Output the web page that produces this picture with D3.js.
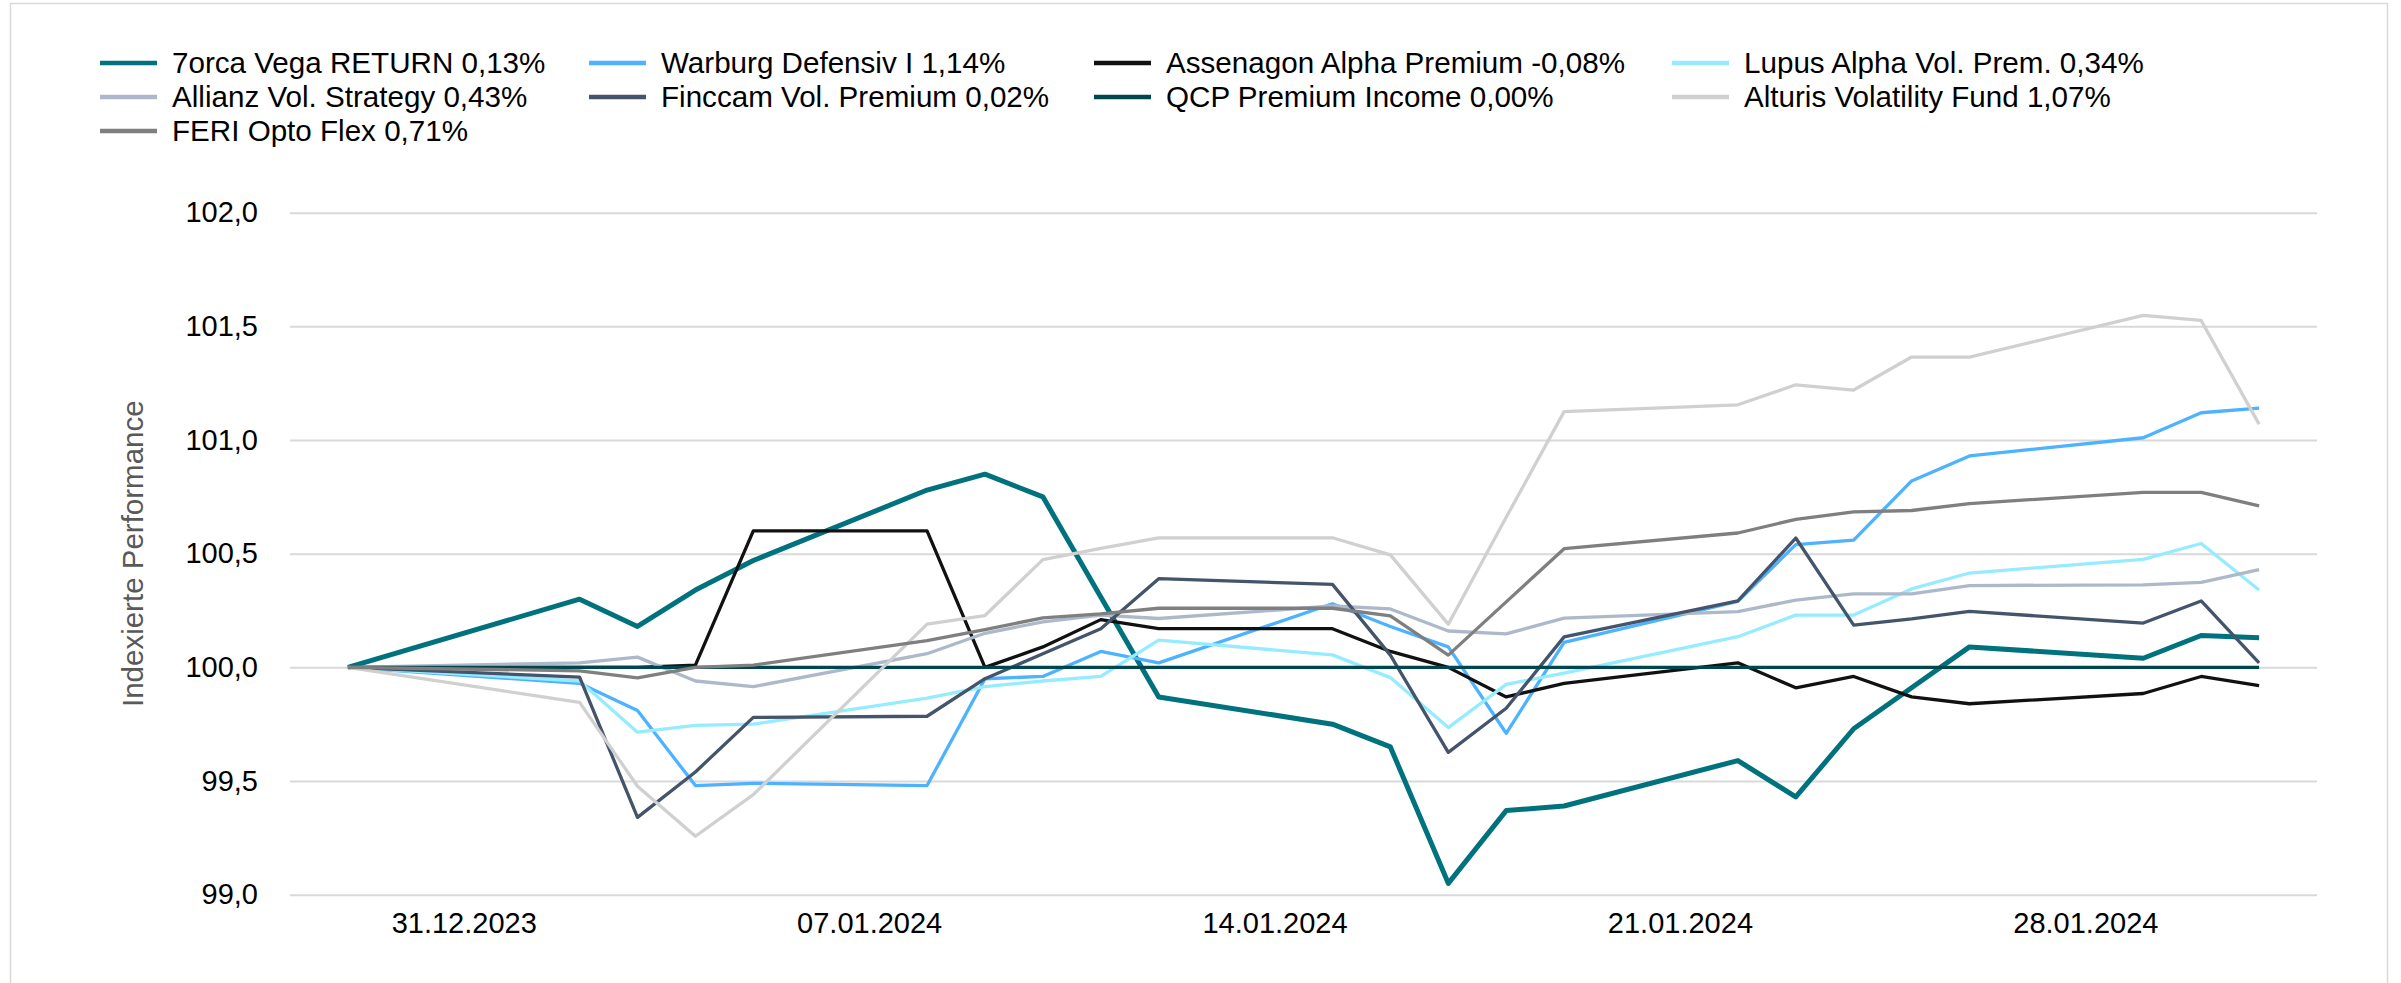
<!DOCTYPE html>
<html>
<head>
<meta charset="utf-8">
<script src="https://cdn.jsdelivr.net/npm/d3@7"></script>
<style>
  body { margin: 0; background: #fff; }
  text { font-family: "Liberation Sans", Arial, sans-serif; }
</style>
</head>
<body>
<div id="chart"></div>
<script>
// trading days
var dates = ["2023-12-29","2024-01-02","2024-01-03","2024-01-04","2024-01-05",
  "2024-01-08","2024-01-09","2024-01-10","2024-01-11","2024-01-12",
  "2024-01-15","2024-01-16","2024-01-17","2024-01-18","2024-01-19",
  "2024-01-22","2024-01-23","2024-01-24","2024-01-25","2024-01-26",
  "2024-01-29","2024-01-30","2024-01-31"];

var orca     = [100, 100.30, 100.18, 100.34, 100.47, 100.78, 100.85, 100.75, 100.31, 99.87, 99.75, 99.65, 99.05, 99.37, 99.39, 99.59, 99.43, 99.73, 99.91, 100.09, 100.04, 100.14, 100.13];
var warburg  = [100, 99.93, 99.81, 99.48, 99.49, 99.48, 99.95, 99.96, 100.07, 100.02, 100.28, 100.18, 100.09, 99.71, 100.11, 100.29, 100.54, 100.56, 100.82, 100.93, 101.01, 101.12, 101.14];
var assenagon= [100, 100.00, 100.00, 100.01, 100.60, 100.60, 100.00, 100.09, 100.21, 100.17, 100.17, 100.07, 100.00, 99.87, 99.93, 100.02, 99.91, 99.96, 99.87, 99.84, 99.885, 99.96, 99.92];
var lupus    = [100, 99.94, 99.715, 99.745, 99.75, 99.865, 99.915, 99.94, 99.96, 100.12, 100.055, 99.955, 99.735, 99.925, 99.975, 100.135, 100.23, 100.23, 100.345, 100.415, 100.475, 100.545, 100.34];
var allianz  = [100, 100.02, 100.045, 99.94, 99.915, 100.06, 100.15, 100.20, 100.23, 100.215, 100.27, 100.257, 100.16, 100.147, 100.217, 100.245, 100.296, 100.323, 100.323, 100.36, 100.363, 100.374, 100.43];
var finccam  = [100, 99.957, 99.34, 99.54, 99.78, 99.785, 99.95, 100.06, 100.17, 100.39, 100.365, 100.054, 99.626, 99.82, 100.134, 100.292, 100.569, 100.186, 100.213, 100.246, 100.195, 100.292, 100.02];
var qcp      = [100, 100, 100, 100, 100, 100, 100, 100, 100, 100, 100, 100, 100, 100, 100, 100, 100, 100, 100, 100, 100, 100, 100];
var alturis  = [100, 99.846, 99.477, 99.257, 99.44, 100.19, 100.228, 100.474, 100.523, 100.57, 100.57, 100.495, 100.19, 100.66, 101.125, 101.155, 101.243, 101.22, 101.365, 101.365, 101.548, 101.526, 101.07];
var feri     = [100, 99.985, 99.954, 100.00, 100.01, 100.118, 100.166, 100.218, 100.235, 100.26, 100.26, 100.226, 100.054, 100.288, 100.522, 100.591, 100.651, 100.684, 100.69, 100.72, 100.77, 100.77, 100.71];

var names = ["7orca Vega RETURN 0,13%", "Warburg Defensiv I 1,14%", "Assenagon Alpha Premium -0,08%",
  "Lupus Alpha Vol. Prem. 0,34%", "Allianz Vol. Strategy 0,43%", "Finccam Vol. Premium 0,02%",
  "QCP Premium Income 0,00%", "Alturis Volatility Fund 1,07%", "FERI Opto Flex 0,71%"];
var values = [orca, warburg, assenagon, lupus, allianz, finccam, qcp, alturis, feri];

var yTicks = [99, 99.5, 100, 100.5, 101, 101.5, 102];
var xTicks = ["2023-12-31", "2024-01-07", "2024-01-14", "2024-01-21", "2024-01-28"];
var xDomain = ["2023-12-28", "2024-02-01"];

// styles
var colors = ["#00727e", "#4db2ff", "#111111", "#95ecff", "#adb9ca", "#44546a", "#00464e", "#d0d0d0", "#7f7f7f"];
var widths = [5, 3.3, 3.3, 3.3, 3.3, 3.3, 3.3, 3.3, 3.3];

var W = 2401, H = 983;
var margin = {top: 212.7, right: 84, bottom: 88.3, left: 290};

var parse = d3.utcParse("%Y-%m-%d");

var svg = d3.select("#chart")
  .append("svg")
    .attr("width", W)
    .attr("height", H);

svg.append("rect")
  .attr("width", W).attr("height", H)
  .attr("fill", "#fff");

// outer frame
svg.append("rect")
  .attr("x", 10.5).attr("y", 3.5)
  .attr("width", 2377).attr("height", 1000)
  .attr("fill", "none")
  .attr("stroke", "#d9d9d9")
  .attr("stroke-width", 1.5);

var x = d3.scaleUtc()
  .domain(xDomain.map(parse))
  .range([margin.left, W - margin.right]);

var y = d3.scaleLinear()
  .domain([99, 102])
  .range([H - margin.bottom, margin.top]);

var fmt = function(d) { return d3.format(".1f")(d).replace(".", ","); };

// gridlines
svg.append("g")
  .attr("transform", "translate(" + margin.left + ",0)")
  .call(d3.axisLeft(y).tickValues(yTicks).tickSize(-(W - margin.right - margin.left)).tickFormat(""))
  .call(function(g) { g.select(".domain").remove(); })
  .selectAll("line")
    .attr("stroke", "#d9d9d9")
    .attr("stroke-width", 2);

// y labels
svg.append("g")
  .attr("transform", "translate(" + margin.left + ",0)")
  .call(d3.axisLeft(y).tickValues(yTicks).tickSize(0).tickPadding(32).tickFormat(fmt))
  .call(function(g) { g.select(".domain").remove(); })
  .selectAll("text")
    .style("font-family", "'Liberation Sans', Arial, sans-serif")
    .style("font-size", "29px")
    .attr("fill", "#000");

// x labels
svg.append("g")
  .attr("transform", "translate(0," + (H - margin.bottom) + ")")
  .call(d3.axisBottom(x).tickValues(xTicks.map(parse)).tickSize(0).tickPadding(18).tickFormat(d3.utcFormat("%d.%m.%Y")))
  .call(function(g) { g.select(".domain").remove(); })
  .selectAll("text")
    .style("font-family", "'Liberation Sans', Arial, sans-serif")
    .style("font-size", "29px")
    .attr("fill", "#000");

// y title
svg.append("text")
  .attr("transform", "translate(143," + (margin.top + (H - margin.bottom - margin.top) / 2) + ") rotate(-90)")
  .attr("text-anchor", "middle")
  .style("font-size", "29.5px")
  .attr("fill", "#595959")
  .text("Indexierte Performance");

// lines
var line = d3.line()
  .x(function(d) { return x(d.date); })
  .y(function(d) { return y(d.value); });

values.forEach(function(vals, i) {
  var pts = vals.map(function(v, j) { return {date: parse(dates[j]), value: v}; });
  svg.append("path")
    .datum(pts)
    .attr("fill", "none")
    .attr("stroke", colors[i])
    .attr("stroke-width", widths[i])
    .attr("stroke-linejoin", "round")
    .attr("d", line);
});

// legend
var colX = [100, 589, 1094, 1672];
var rowY = [63, 97, 131];

var legend = svg.append("g");
names.forEach(function(name, i) {
  var cx = colX[i % 4], cy = rowY[Math.floor(i / 4)];
  legend.append("line")
    .attr("x1", cx).attr("x2", cx + 57)
    .attr("y1", cy).attr("y2", cy)
    .attr("stroke", colors[i])
    .attr("stroke-width", 4.5);
  legend.append("text")
    .attr("x", cx + 72)
    .attr("y", cy)
    .attr("dy", "0.35em")
    .style("font-size", "29.6px")
    .attr("fill", "#000")
    .text(name);
});
</script>
</body>
</html>
